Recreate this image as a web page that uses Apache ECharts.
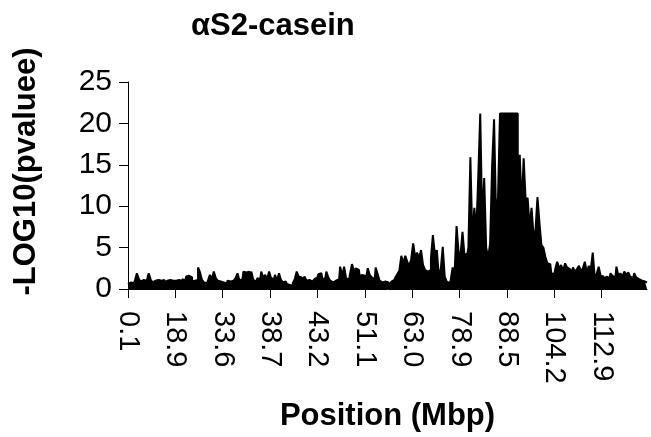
<!DOCTYPE html>
<html>
<head>
<meta charset="utf-8">
<script src="https://cdn.jsdelivr.net/npm/echarts@6/dist/echarts.min.js"></script>
<style>
  html, body { margin: 0; padding: 0; background: #fff; }
  #chart { width: 651px; height: 437px; }
</style>
</head>
<body>
<div id="chart"></div>
<script>
// position labels shown under every 24th marker
var tickLabels = ['0.1', '18.9', '33.6', '38.7', '43.2', '51.1', '63.0', '78.9', '88.5', '104.2', '112.9'];
var tickStep = 24;

// -log10(p) per marker, one row per labelled block
var block0 = [0.6, 0.8, 0.9, 0.7, 1.0, 1.9, 1.2, 0.9, 1.1, 1.0, 1.2, 1.9, 1.1, 0.8, 1.0, 1.1, 0.9, 1.0, 1.1, 0.8, 1.0, 1.1, 0.9, 1.0];
var block1 = [1.0, 1.2, 1.1, 0.9, 1.2, 1.0, 1.5, 1.6, 1.4, 0.9, 1.0, 1.1, 2.6, 2.0, 1.1, 0.8, 0.7, 1.0, 1.7, 1.2, 2.1, 1.3, 1.0, 0.9];
var block2 = [0.8, 0.9, 0.7, 1.0, 0.9, 1.0, 1.1, 1.3, 1.9, 1.0, 1.2, 2.1, 2.0, 2.1, 1.6, 2.1, 1.1, 0.9, 1.3, 1.2, 2.1, 1.4, 1.7, 1.2];
var block3 = [2.1, 1.3, 1.2, 1.7, 1.0, 1.9, 1.1, 0.8, 0.9, 0.6, 0.5, 0.4, 0.7, 1.2, 2.1, 1.5, 1.4, 1.1, 1.5, 1.0, 1.1, 0.9, 1.0, 1.2];
var block4 = [1.4, 1.8, 1.9, 1.2, 1.3, 2.1, 1.4, 1.0, 0.8, 1.0, 0.9, 1.2, 2.7, 1.6, 2.7, 1.3, 1.1, 1.8, 3.0, 2.2, 2.5, 2.3, 1.4, 1.7];
var block5 = [1.6, 1.2, 2.5, 1.7, 1.4, 1.2, 2.6, 1.8, 1.0, 0.8, 0.9, 0.7, 0.8, 0.5, 0.9, 1.1, 1.4, 1.8, 2.2, 4.0, 3.1, 4.0, 3.3, 2.8];
var block6 = [3.6, 5.5, 3.9, 4.4, 3.7, 4.7, 2.9, 2.3, 2.1, 2.3, 3.7, 6.5, 4.2, 4.7, 1.6, 2.4, 5.1, 1.5, 0.9, 0.7, 1.0, 2.6, 1.8, 7.6];
var block7 = [4.5, 4.1, 6.9, 4.1, 4.3, 5.0, 15.9, 6.0, 9.8, 7.0, 13.6, 21.2, 8.0, 13.4, 5.0, 3.8, 5.5, 14.8, 20.5, 9.0, 11.0, 21.2, 21.2, 21.2];
var block8 = [21.2, 21.2, 21.2, 21.2, 21.2, 21.2, 9.0, 16.2, 10.0, 15.8, 10.7, 11.0, 7.5, 9.8, 6.5, 7.1, 11.1, 8.0, 5.3, 5.0, 3.9, 3.1, 3.0, 1.9];
var block9 = [1.8, 2.4, 3.3, 2.5, 2.9, 2.2, 3.1, 2.6, 2.4, 1.9, 2.6, 2.1, 2.4, 2.8, 2.2, 2.5, 3.3, 2.0, 2.8, 2.3, 4.4, 1.5, 1.8, 2.7];
var block10 = [1.6, 1.5, 1.2, 1.5, 1.3, 1.9, 1.6, 1.4, 2.7, 1.6, 1.9, 1.5, 2.1, 1.7, 2.0, 1.5, 1.3, 1.9, 1.4, 1.2, 1.0, 1.2, 0.9, 0.8];

var values = [].concat(block0, block1, block2, block3, block4, block5,
  block6, block7, block8, block9, block10);
var categories = values.map(function (v, i) { return i; });

var chart = echarts.init(document.getElementById('chart'), null, { renderer: 'canvas' });
var font = 'Liberation Sans, Arial, sans-serif';

var option = {
  backgroundColor: '#ffffff',
  animation: false,
  title: {
    text: 'αS2-casein',
    left: 186,
    top: 6,
    textStyle: { fontFamily: font, fontSize: 31, fontWeight: 'bold', color: '#000' }
  },
  grid: { left: 128, right: 4, top: 82, bottom: 148 },
  xAxis: {
    type: 'category',
    data: categories,
    boundaryGap: false,
    name: 'Position (Mbp)',
    nameLocation: 'middle',
    nameGap: 112,
    nameTextStyle: { fontFamily: font, fontSize: 31, fontWeight: 'bold', color: '#000' },
    axisLine: { lineStyle: { color: '#000', width: 1 } },
    axisTick: { interval: tickStep - 1, length: 9, lineStyle: { color: '#000' } },
    axisLabel: {
      interval: tickStep - 1,
      rotate: -90,
      margin: 22,
      fontFamily: font,
      fontSize: 29,
      color: '#000',
      formatter: function (v, i) {
        return i % tickStep === 0 ? (tickLabels[i / tickStep] || '') : '';
      }
    },
    splitLine: { show: false }
  },
  yAxis: {
    type: 'value',
    min: 0,
    max: 25,
    interval: 5,
    name: '-LOG10(pvaluee)',
    nameLocation: 'middle',
    nameRotate: 90,
    nameGap: 86,
    nameTextStyle: { fontFamily: font, fontSize: 31, fontWeight: 'bold', color: '#000', padding: [0, 0, 0, 28] },
    axisLine: { show: true, lineStyle: { color: '#000', width: 1 } },
    axisTick: { show: true, length: 9, lineStyle: { color: '#000' } },
    axisLabel: { margin: 16, fontFamily: font, fontSize: 30, color: '#000' },
    splitLine: { show: false }
  },
  series: [{
    type: 'line',
    data: values,
    step: 'middle',
    symbol: 'none',
    lineStyle: { color: '#000', width: 2 },
    areaStyle: { color: '#000', opacity: 1 },
    itemStyle: { color: '#000' }
  }]
};

chart.setOption(option);
</script>
</body>
</html>
